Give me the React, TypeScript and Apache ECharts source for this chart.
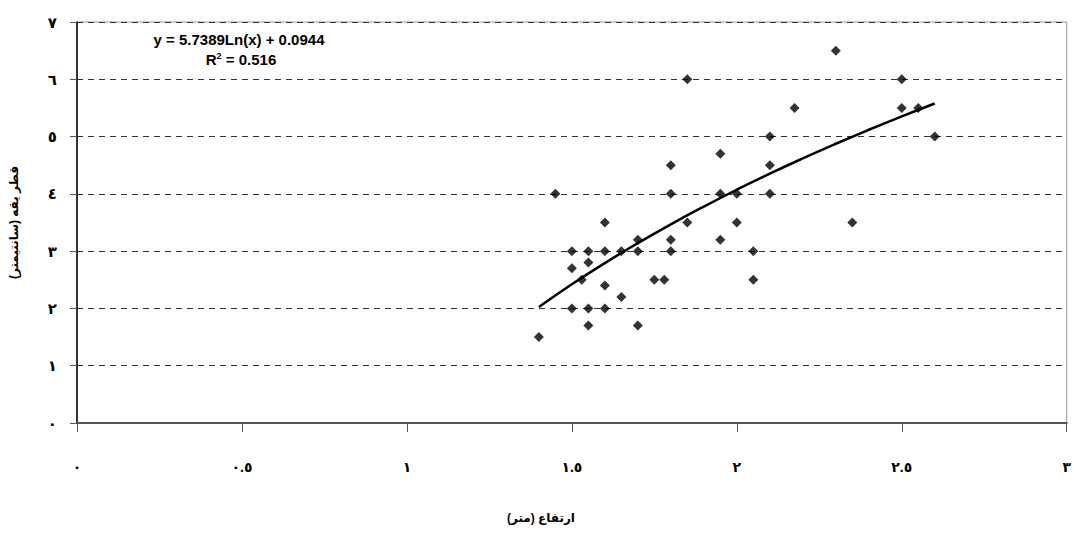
import React, { useEffect, useRef } from "react";
import * as echarts from "echarts";

// Measured points: [height (m), collar diameter (cm)]
const heights = [
  1.4, 1.45, 1.5, 1.5, 1.5, 1.53, 1.55, 1.55, 1.55, 1.55, 1.6, 1.6, 1.6, 1.6,
  1.65, 1.65, 1.7, 1.7, 1.7, 1.75, 1.78, 1.8, 1.8, 1.8, 1.8, 1.85, 1.85,
  1.95, 1.95, 1.95, 2.0, 2.0, 2.05, 2.05, 2.1, 2.1, 2.1, 2.175, 2.3, 2.35,
  2.5, 2.5, 2.55, 2.6,
];
const diameters = [
  1.5, 4.0, 3.0, 2.7, 2.0, 2.5, 3.0, 2.8, 2.0, 1.7, 3.5, 3.0, 2.4, 2.0,
  3.0, 2.2, 3.2, 3.0, 1.7, 2.5, 2.5, 4.5, 4.0, 3.2, 3.0, 6.0, 3.5,
  4.7, 4.0, 3.2, 4.0, 3.5, 3.0, 2.5, 5.0, 4.5, 4.0, 5.5, 6.5, 3.5,
  6.0, 5.5, 5.5, 5.0,
];

// Trend line as printed on the chart
const trendA = 5.7389;
const trendB = 0.0944;
const trendR2 = "0.516";
const trendXs = [1.4, 1.5, 1.6, 1.7, 1.8, 1.9, 2.0, 2.1, 2.2, 2.3, 2.4, 2.5, 2.6];

const yTicks = [0, 1, 2, 3, 4, 5, 6, 7];
const xTicks = [0, 0.5, 1, 1.5, 2, 2.5, 3];

const xTitle = "ارتفاع (متر)";
const yTitle = "قطر یقه (سانتیمتر)";

const arabicDigits = ["٠", "١", "٢", "٣", "٤", "٥", "٦", "٧", "٨", "٩"];
const toArabic = (v: number) =>
  String(v).replace(/[0-9]/g, (d) => arabicDigits[Number(d)]);

const FONT = "'Liberation Sans', Arial, 'DejaVu Sans', sans-serif";

export default function App() {
  const ref = useRef<HTMLDivElement>(null);
  useEffect(() => {
    if (!ref.current) return;
    const chart = echarts.init(ref.current, undefined, { renderer: "svg" });
    const pts = heights.map((h, i) => [h, diameters[i]]);
    const trend = trendXs.map((x) => [x, trendA * Math.log(x) + trendB]);
    chart.setOption({
      animation: false,
      backgroundColor: "#fff",
      grid: {
        left: 71,
        right: 6,
        top: 22,
        bottom: 122,
        show: true,
        borderColor: "#999",
        borderWidth: 1,
        backgroundColor: "transparent",
      },
      xAxis: {
        type: "value",
        min: xTicks[0],
        max: xTicks[xTicks.length - 1],
        interval: 0.5,
        axisLine: { show: true, lineStyle: { color: "#555", width: 2 } },
        axisTick: { show: true, inside: false, length: 9, lineStyle: { color: "#555", width: 1 } },
        axisLabel: {
          margin: 37,
          fontFamily: FONT,
          fontWeight: "bold",
          fontSize: 14,
          color: "#000",
          formatter: (v: number) => toArabic(v),
        },
        splitLine: { show: false },
      },
      yAxis: {
        type: "value",
        min: yTicks[0],
        max: yTicks[yTicks.length - 1],
        interval: 1,
        name: yTitle,
        nameLocation: "middle",
        nameGap: 57,
        nameRotate: 90,
        nameTextStyle: { fontFamily: FONT, fontWeight: "bold", fontSize: 12, color: "#000" },
        axisLine: { show: true, lineStyle: { color: "#000", width: 1.5 } },
        axisTick: { show: true, inside: false, length: 7, lineStyle: { color: "#555", width: 1 } },
        axisLabel: {
          margin: 20,
          fontFamily: FONT,
          fontWeight: "bold",
          fontSize: 15,
          color: "#000",
          formatter: (v: number) => toArabic(v),
        },
        splitLine: {
          show: true,
          lineStyle: { color: "#333", width: 1, type: [6, 5] },
        },
      },
      series: [
        {
          type: "scatter",
          data: pts,
          symbol: "diamond",
          symbolSize: 10,
          itemStyle: { color: "#000" },
          z: 3,
        },
        {
          type: "line",
          data: trend,
          smooth: true,
          showSymbol: false,
          lineStyle: { color: "#000", width: 2.5 },
          z: 4,
        },
      ],
      graphic: [
        {
          type: "text",
          x: 239,
          y: 39,
          style: {
            text: `y = ${trendA}Ln(x) + ${trendB}`,
            fontFamily: FONT,
            fontWeight: "bold",
            fontSize: 15,
            fill: "#000",
            align: "center",
            verticalAlign: "middle",
          },
        },
        {
          type: "text",
          x: 241,
          y: 59,
          style: {
            text: `{r|R}{s|2}{r| = ${trendR2}}`,
            fontFamily: FONT,
            fontWeight: "bold",
            fontSize: 15,
            fill: "#000",
            align: "center",
            verticalAlign: "middle",
            rich: {
              r: { fontFamily: FONT, fontWeight: "bold", fontSize: 15, fill: "#000" },
              s: { fontFamily: FONT, fontWeight: "bold", fontSize: 9, fill: "#000", verticalAlign: "top", padding: [0, 0, 7, 0] },
            },
          },
        },
        {
          type: "text",
          x: 541,
          y: 518,
          style: {
            text: xTitle,
            fontFamily: FONT,
            fontWeight: "bold",
            fontSize: 12,
            fill: "#000",
            align: "center",
            verticalAlign: "middle",
          },
        },
      ],
    });
    return () => chart.dispose();
  }, []);
  return (
    <div
      ref={ref}
      style={{ position: "absolute", left: 0, top: 0, width: 1074, height: 545 }}
    />
  );
}
